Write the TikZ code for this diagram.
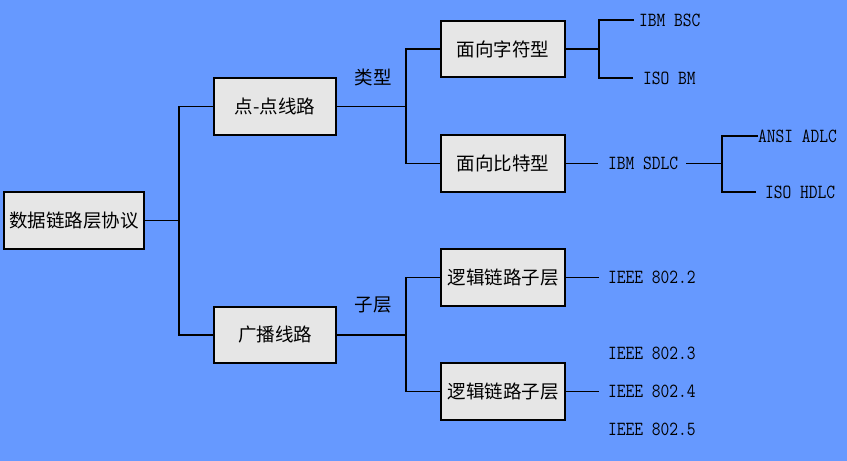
\documentclass[tikz,border=0pt]{standalone}
\usepackage{fontspec}
\newfontfamily\cjk{Noto Sans CJK SC}
\definecolor{bg}{HTML}{6699FF}
\definecolor{boxfill}{HTML}{E6E6E6}
\newcommand{\tallcode}[1]{\scalebox{1}[1.18]{#1}}
\begin{document}
\begin{tikzpicture}[x=1pt,y=-1pt,
  box/.style={draw=black,fill=boxfill,line width=1.3pt,inner sep=0pt,
    font=\cjk\fontsize{18.5}{20}\selectfont},
  lbl/.style={inner sep=0pt,font=\cjk\fontsize{18.5}{20}\selectfont},
  code/.style={inner sep=0pt,anchor=west,font=\ttfamily\fontsize{17}{18}\selectfont},
  con/.style={line width=1.3pt,black}]
\fill[bg] (0,0) rectangle (847,461);
\useasboundingbox (0,0) rectangle (847,461);

\node[box,minimum width=140pt,minimum height=57pt] (root) at (74,220.5) {数据链路层协议};
\node[box,minimum width=122pt,minimum height=57pt] (p2p) at (275,106.5) {点-点线路};
\node[box,minimum width=122pt,minimum height=56pt] (bc) at (275,335) {广播线路};
\node[box,minimum width=124pt,minimum height=56pt] (chr) at (503,49) {面向字符型};
\node[box,minimum width=124pt,minimum height=57pt] (bit) at (503,163.5) {面向比特型};
\node[box,minimum width=124pt,minimum height=57pt] (llcA) at (503,277.5) {逻辑链路子层};
\node[box,minimum width=124pt,minimum height=57pt] (llcB) at (503,391.5) {逻辑链路子层};

\node[lbl] (tlx) at (373,77) {类型};
\node[lbl] (zc) at (373,305) {子层};

\node[code] (bsc) at (639,20) {\tallcode{IBM BSC}};
\node[code] (isobm) at (643,78) {\tallcode{ISO BM}};
\node[code] (sdlc) at (608,163.5) {\tallcode{IBM SDLC}};
\node[code] (adlc) at (758,136) {\tallcode{ANSI ADLC}};
\node[code] (hdlc) at (765,192) {\tallcode{ISO HDLC}};
\node[code] (i2) at (608,277.5) {\tallcode{IEEE 802.2}};
\node[code] (i3) at (608,353) {\tallcode{IEEE 802.3}};
\node[code] (i4) at (608,391.5) {\tallcode{IEEE 802.4}};
\node[code] (i5) at (608,429) {\tallcode{IEEE 802.5}};

% root split
\draw[con] (root.east) -- (179,220.5) coordinate (j1);
\draw[con] (j1) |- (p2p.west);
\draw[con] (j1) |- (bc.west);
% point-to-point split
\draw[con] (p2p.east) -- (406,106.5) coordinate (j2);
\draw[con] (j2) |- (chr.west);
\draw[con] (j2) |- (bit.west);
% broadcast split
\draw[con] (bc.east) -- (406,335) coordinate (j3);
\draw[con] (j3) |- (llcA.west);
\draw[con] (j3) |- (llcB.west);
% character-oriented
\draw[con] (chr.east) -- (599,49) coordinate (j4);
\draw[con] (j4) |- ([xshift=-5pt]bsc.west);
\draw[con] (j4) |- ([xshift=-10pt]isobm.west);
% bit-oriented
\draw[con] (bit.east) -- ([xshift=-10pt]sdlc.west |- bit.east);
\draw[con] ([xshift=8pt]sdlc.east |- bit.east) -- (722,163.5) coordinate (j5);
\draw[con] (j5) |- (adlc.west);
\draw[con] (j5) |- ([xshift=-9pt]hdlc.west);
% LLC
\draw[con] (llcA.east) -- ([xshift=-9pt]i2.west |- llcA.east);
\draw[con] (llcB.east) -- ([xshift=-9pt]i4.west |- llcB.east);
\end{tikzpicture}
\end{document}
